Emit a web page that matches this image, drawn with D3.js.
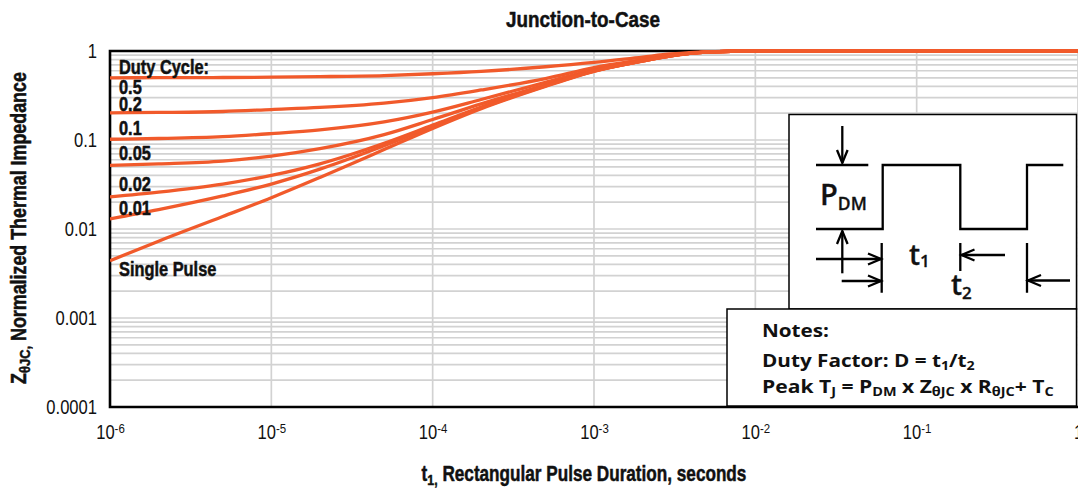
<!DOCTYPE html>
<html>
<head>
<meta charset="utf-8">
<script src="https://cdn.jsdelivr.net/npm/d3@7"></script>
<style>
  body { margin: 0; background: #fff; }
  svg { display: block; }
</style>
</head>
<body>
<svg id="chart" width="1078" height="488"></svg>
<script>
// Pulse durations t1 (seconds) at which each curve is sampled
const pulseDurations = [1e-6, 2e-6, 5e-6, 1e-5, 2e-5, 5e-5, 1e-4, 2e-4, 5e-4, 1e-3, 2e-3, 3e-3, 5e-3, 1e-2, 1e-1, 1];

// Normalized thermal impedance Z(thetaJC) for each duty cycle
const dutyCycle05  = [0.50, 0.501, 0.504, 0.508, 0.515, 0.53, 0.555, 0.59, 0.665, 0.745, 0.855, 0.925, 0.98, 1, 1, 1];
const dutyCycle02  = [0.202, 0.204, 0.209, 0.22, 0.232, 0.26, 0.30, 0.365, 0.49, 0.65, 0.80, 0.895, 0.972, 1, 1, 1];
const dutyCycle01  = [0.102, 0.104, 0.109, 0.118, 0.13, 0.16, 0.206, 0.285, 0.445, 0.615, 0.78, 0.886, 0.97, 1, 1, 1];
const dutyCycle005 = [0.052, 0.054, 0.058, 0.066, 0.08, 0.115, 0.17, 0.255, 0.415, 0.60, 0.775, 0.884, 0.97, 1, 1, 1];
const dutyCycle002 = [0.023, 0.026, 0.032, 0.04, 0.054, 0.092, 0.147, 0.235, 0.408, 0.597, 0.773, 0.883, 0.97, 1, 1, 1];
const dutyCycle001 = [0.013, 0.0165, 0.0235, 0.032, 0.047, 0.086, 0.142, 0.23, 0.405, 0.595, 0.772, 0.882, 0.97, 1, 1, 1];
const singlePulse  = [0.0044, 0.0073, 0.0138, 0.0225, 0.038, 0.078, 0.135, 0.225, 0.40, 0.59, 0.77, 0.88, 0.97, 1, 1, 1];

const seriesValues = [dutyCycle05, dutyCycle02, dutyCycle01, dutyCycle005, dutyCycle002, dutyCycle001, singlePulse];
const seriesLabels = ["0.5", "0.2", "0.1", "0.05", "0.02", "0.01", "Single Pulse"];

// Axis ticks
const yTickValues = [1, 0.1, 0.01, 0.001, 0.0001];
const yTickLabels = ["1", "0.1", "0.01", "0.001", "0.0001"];
const xTickExponents = [-6, -5, -4, -3, -2, -1, 0];

const SANS = "'Liberation Sans', Arial, sans-serif";
const PLAIN = "'Open Sans', 'Noto Sans', 'DejaVu Sans', sans-serif";
const ORANGE = "#f15a2b";
const INK = "#111";
const NARROW_X = 0.85;   // horizontal squeeze for condensed lettering

const svg = d3.select("#chart");
const plot = { left: 110, right: 1078, top: 51, bottom: 407 };

const x = d3.scaleLog().domain([1e-6, 1]).range([plot.left, plot.right]);
const y = d3.scaleLog().domain([1e-4, 1]).range([plot.bottom, plot.top]);

// Text placed at (x0, y0) and squeezed horizontally, either to a fixed width or by a factor
function placeText(parent, x0, y0, opts, build) {
  const g = parent.append("g")
    .attr("transform", `translate(${x0},${y0})` + (opts.rotate ? ` rotate(${opts.rotate})` : ""));
  const t = g.append("text")
    .attr("text-anchor", opts.anchor || "start")
    .attr("font-family", opts.family || SANS)
    .attr("font-weight", opts.weight || "normal")
    .attr("font-size", opts.size)
    .attr("fill", INK);
  if (opts.heavy) t.attr("stroke", INK).attr("stroke-width", opts.heavy).attr("stroke-linejoin", "round");
  build(t);
  let sx = opts.squeeze || 1;
  if (opts.width) sx = opts.width / t.node().getComputedTextLength();
  t.attr("transform", `scale(${sx},1)`);
  return t;
}

// Writes runs of text, lowering the runs marked "sub"
function rich(sel, parts, subSize, shift) {
  let pending = 0;
  parts.forEach(([s, kind]) => {
    const ts = sel.append("tspan").text(s);
    if (kind === "sub") {
      ts.attr("font-size", subSize).attr("dy", shift - pending);
      pending = shift;
    } else if (pending) {
      ts.attr("dy", -pending);
      pending = 0;
    }
  });
  return sel;
}

// Grid: horizontal lines at every 1..9 step of each decade, vertical lines at decades
const hGrid = [];
for (let k = -4; k < 0; k++) for (let m = 1; m <= 9; m++) hGrid.push(m * Math.pow(10, k));
const vGrid = xTickExponents.map(e => Math.pow(10, e));

const grid = svg.append("g").attr("stroke", "#d2d2d2").attr("stroke-width", 1.7);
grid.selectAll("line.h").data(hGrid).join("line")
  .attr("x1", plot.left).attr("x2", plot.right)
  .attr("y1", d => y(d)).attr("y2", d => y(d));
grid.selectAll("line.v").data(vGrid).join("line")
  .attr("y1", plot.top).attr("y2", plot.bottom)
  .attr("x1", d => x(d)).attr("x2", d => x(d));

// Y axis tick labels
const yAxis = d3.axisLeft(y).tickValues(yTickValues)
  .tickFormat((d, i) => yTickLabels[i]).tickSize(0).tickPadding(0);
const gy = svg.append("g").attr("transform", `translate(${plot.left - 13},0)`).call(yAxis);
gy.select(".domain").remove();
gy.selectAll("text")
  .attr("font-family", SANS).attr("font-size", 19.5).attr("fill", INK)
  .attr("x", 0).attr("transform", `scale(${NARROW_X},1)`);

// X axis tick labels written as powers of ten
const xAxis = d3.axisBottom(x).tickValues(vGrid).tickSize(0).tickPadding(18).tickFormat("");
const gx = svg.append("g").attr("transform", `translate(0,${plot.bottom})`).call(xAxis);
gx.select(".domain").remove();
gx.selectAll(".tick text").each(function (d, i) {
  const t = d3.select(this).attr("font-family", SANS).attr("font-size", 19.5).attr("fill", INK)
    .attr("transform", `scale(${NARROW_X},1)`);
  const e = xTickExponents[i];
  if (e === 0) { t.text("1"); return; }
  t.append("tspan").text("10");
  t.append("tspan").text(String(e)).attr("font-size", 13.5).attr("dy", -5.5);
});

// Frame
svg.append("path")
  .attr("d", `M${plot.right + 2},${plot.top}H${plot.left}V${plot.bottom}H${plot.right + 2}`)
  .attr("stroke", "#000").attr("stroke-width", 2.6).attr("fill", "none");

// Curves
svg.append("clipPath").attr("id", "plotClip").append("rect")
  .attr("x", plot.left).attr("y", plot.top - 4)
  .attr("width", plot.right - plot.left).attr("height", plot.bottom - plot.top + 4);

const line = d3.line()
  .x(d => x(d[0])).y(d => y(d[1]))
  .curve(d3.curveMonotoneX);

svg.append("g").attr("clip-path", "url(#plotClip)")
  .selectAll("path").data(seriesValues).join("path")
  .attr("d", vals => line(pulseDurations.map((t, i) => [t, vals[i]])))
  .attr("fill", "none").attr("stroke", ORANGE).attr("stroke-width", 3.3)
  .attr("stroke-linejoin", "round");

// Curve labels
const labelBaselines = [94, 111, 135, 160, 191, 214.5, 276];
const labels = svg.append("g");
placeText(labels, 119, 73.5, { size: 19.5, weight: "bold", squeeze: 0.84, heavy: 0.5 }, t => t.text("Duty Cycle:"));
seriesLabels.forEach((s, i) => {
  placeText(labels, 119, labelBaselines[i], { size: 19.5, weight: "bold", squeeze: 0.84, heavy: 0.5 }, t => t.text(s));
});

// Title and axis titles
placeText(svg, 583, 27, { size: 22, weight: "bold", anchor: "middle", width: 154, heavy: 0.5 },
  t => t.text("Junction-to-Case"));
placeText(svg, 584, 481, { size: 21.5, weight: "bold", anchor: "middle", width: 325, heavy: 0.5 },
  t => rich(t, [["t"], ["1,", "sub"], [" Rectangular Pulse Duration, seconds"]], 15.5, 4));
placeText(svg, 26, 228, { size: 21.5, weight: "bold", anchor: "middle", width: 312, rotate: -90, heavy: 0.5 },
  t => rich(t, [["Z"], ["θJC,", "sub"], [" Normalized Thermal Impedance"]], 15.5, 4));

// Pulse waveform inset and notes
const inset = svg.append("g");
inset.append("rect").attr("x", 789).attr("y", 114.5).attr("width", 287.5).attr("height", 194.5)
  .attr("fill", "#fff").attr("stroke", "#000").attr("stroke-width", 1.5);
inset.append("rect").attr("x", 727).attr("y", 309).attr("width", 349.5).attr("height", 97)
  .attr("fill", "#fff").attr("stroke", "#000").attr("stroke-width", 1.5);

const ink = inset.append("g").attr("stroke", "#000").attr("stroke-width", 2.3).attr("fill", "none");
ink.append("path").attr("d", "M816,229H882.7V165H960.3V229H1027V165H1063.3");
ink.append("path").attr("d", "M816,165H868.3");
ink.append("path").attr("d", "M842.3,126V163");
ink.append("path").attr("d", "M837,150L842.3,163L847.6,150");
ink.append("path").attr("d", "M842.3,231V273.3");
ink.append("path").attr("d", "M837,244L842.3,231L847.6,244");
ink.append("path").attr("d", "M881.7,243V292.7M960.3,243V271M1027,243V292.7");
ink.append("path").attr("d", "M816,259H881");
ink.append("path").attr("d", "M868,253.5L881,259L868,264.5");
ink.append("path").attr("d", "M841.7,281H881");
ink.append("path").attr("d", "M868,275.5L881,281L868,286.5");
ink.append("path").attr("d", "M1005,255H961.5");
ink.append("path").attr("d", "M974.5,249.5L961.5,255L974.5,260.5");
ink.append("path").attr("d", "M1070,280.5H1028");
ink.append("path").attr("d", "M1041,275L1028,280.5L1041,286");

placeText(inset, 820, 205, { size: 29, weight: 600, family: PLAIN, heavy: 0.3 },
  t => rich(t, [["P"], ["DM", "sub"]], 17.5, 4.5));
placeText(inset, 909, 265, { size: 28, weight: 600, family: PLAIN, heavy: 0.3 },
  t => rich(t, [["t"], ["1", "sub"]], 17, 2));
placeText(inset, 951, 295, { size: 28, weight: 600, family: PLAIN, heavy: 0.3 },
  t => rich(t, [["t"], ["2", "sub"]], 17, 4));

placeText(inset, 762, 336.5, { size: 17.5, weight: 700, family: PLAIN, width: 67 },
  t => t.text("Notes:"));
placeText(inset, 762, 366.5, { size: 17.5, weight: 700, family: PLAIN, width: 213 },
  t => rich(t, [["Duty Factor: D = t"], ["1", "sub"], ["/t"], ["2", "sub"]], 12, 3));
placeText(inset, 762, 393.3, { size: 17.5, weight: 700, family: PLAIN, width: 292 },
  t => rich(t, [["Peak T"], ["J", "sub"], [" = P"], ["DM", "sub"], [" x Z"], ["θJC", "sub"],
    [" x R"], ["θJC", "sub"], ["+ T"], ["C", "sub"]], 12, 3));
</script>
</body>
</html>
